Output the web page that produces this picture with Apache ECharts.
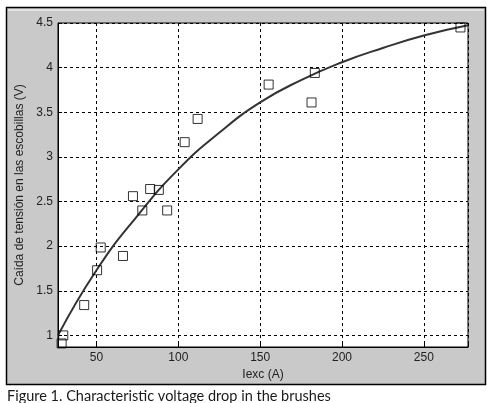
<!DOCTYPE html>
<html>
<head>
<meta charset="utf-8">
<script src="https://cdn.jsdelivr.net/npm/echarts@6/dist/echarts.min.js"></script>
<style>
  html, body { margin: 0; padding: 0; background: #fff; }
  #chart { width: 487px; height: 403px; }
</style>
</head>
<body>
<div id="chart"></div>
<script>
// measured points (Iexc, voltage drop)
var iexc = [28.7, 29.7, 42.5, 50.4, 52.6, 66.2, 72.3, 78, 82.8, 88.1, 93.2, 103.9, 111.8, 155.2, 181.4, 183.4, 272.4];
var drop = [0.91, 1.0, 1.34, 1.73, 1.985, 1.89, 2.56, 2.40, 2.64, 2.63, 2.40, 3.165, 3.425, 3.81, 3.61, 3.94, 4.45];

// fitted curve
var fitX = [26.5, 50, 75, 100, 125, 150, 175, 200, 225, 250, 277];
var fitY = [1.0, 1.73, 2.34, 2.86, 3.27, 3.61, 3.86, 4.06, 4.22, 4.36, 4.475];

var xTicks = [50, 100, 150, 200, 250];
var yTicks = [1, 1.5, 2, 2.5, 3, 3.5, 4, 4.5];

var caption = 'Figure 1. Characteristic voltage drop in the brushes';
var xName = 'Iexc (A)';
var yName = 'Caída de tensión en las escobillas (V)';

function zip(a, b) {
  return a.map(function (v, i) { return [v, b[i]]; });
}
function onlyTicks(list) {
  return function (v) {
    for (var i = 0; i < list.length; i++) {
      if (Math.abs(list[i] - v) < 1e-6) return String(list[i]);
    }
    return '';
  };
}

var font = '"Liberation Sans", Arial, sans-serif';
var chart = echarts.init(document.getElementById('chart'));

chart.setOption({
  animation: false,
  backgroundColor: '#fff',
  graphic: [
    { type: 'rect', z: -10, shape: { x: 6.5, y: 7.5, width: 479, height: 377 },
      style: { fill: '#c9c9c9', stroke: '#000', lineWidth: 1.5 } },
    { type: 'rect', z: -9, shape: { x: 8, y: 9, width: 476, height: 2 },
      style: { fill: '#e2e2e2' } },
    { type: 'text', left: 7, top: 389,
      style: { text: caption, font: '14.5px Lato, "DejaVu Sans", sans-serif', fill: '#1a1a1a' } }
  ],
  grid: {
    left: 58, top: 23, right: 19, bottom: 56,
    show: true, backgroundColor: '#fff', borderColor: '#000', borderWidth: 1
  },
  xAxis: {
    type: 'value', min: 26.5, max: 277, minInterval: 50, maxInterval: 50,
    name: xName, nameLocation: 'middle', nameGap: 20,
    nameTextStyle: { fontFamily: font, fontSize: 12, color: '#222' },
    axisLine: { show: true, lineStyle: { color: '#000' } },
    axisTick: { show: true, inside: true, length: 4, lineStyle: { color: '#000' } },
    axisLabel: { formatter: onlyTicks(xTicks), fontFamily: font, fontSize: 12, color: '#222', margin: 5 },
    splitLine: { show: true, lineStyle: { color: '#000', type: [3, 3], width: 1 } }
  },
  yAxis: {
    type: 'value', min: 0.87, max: 4.5, minInterval: 0.5, maxInterval: 0.5,
    name: yName, nameLocation: 'middle', nameGap: 23,
    nameTextStyle: { fontFamily: font, fontSize: 12, color: '#222' },
    axisLine: { show: true, lineStyle: { color: '#000' } },
    axisTick: { show: true, inside: true, length: 4, lineStyle: { color: '#000' } },
    axisLabel: { formatter: onlyTicks(yTicks), fontFamily: font, fontSize: 12, color: '#222', margin: 5 },
    splitLine: { show: true, lineStyle: { color: '#000', type: [3, 3], width: 1 } }
  },
  series: [
    {
      type: 'line', data: zip(fitX, fitY), smooth: 0.5, symbol: 'none',
      lineStyle: { color: '#333', width: 2 }, z: 3
    },
    {
      type: 'scatter', data: zip(iexc, drop), symbol: 'rect', symbolSize: 9,
      itemStyle: { color: 'rgba(0,0,0,0)', borderColor: '#000', borderWidth: 1 }, z: 4
    }
  ]
});
</script>
</body>
</html>
